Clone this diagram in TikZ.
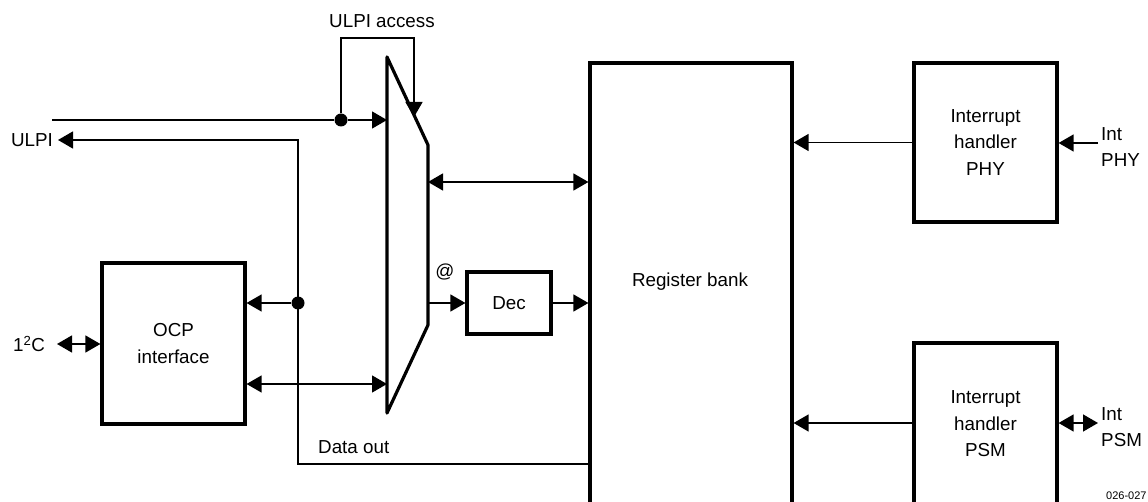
\documentclass[tikz,border=0pt]{standalone}
\usepackage{fontspec}
\setmainfont{Liberation Sans}
\usetikzlibrary{arrows.meta}
\begin{document}
\begin{tikzpicture}[x=1pt,y=-1pt,
  box/.style={draw, line width=3.2pt, inner sep=0pt, align=center},
  lbl/.style={font=\fontsize{18.8}{26.5}\selectfont, inner sep=0pt, align=center},
  wire/.style={line width=1.4pt},
  tip/.tip={Triangle[length=15pt,width=17pt]},
  arr/.style={wire, -tip},
  darr/.style={wire, tip-tip},
  dot/.style={circle, fill, inner sep=0pt, minimum size=13pt}]
\useasboundingbox (0,0) rectangle (1148,502);

% boxes
\node[box, lbl, minimum width=143pt, minimum height=161pt] (ocp) at (173.5,343.5) {OCP\\interface};
\node[box, lbl, minimum width=84pt, minimum height=62pt] (dec) at (509,303) {Dec};
\node[box, minimum width=202pt, minimum height=482pt] (bank) at (691,304) {};
\node[lbl] (banklbl) at (690,282) {Register bank};
\node[box, lbl, minimum width=143pt, minimum height=159pt] (phy) at (985.5,142.5) {Interrupt\\handler\\PHY};
\node[box, minimum width=143pt, minimum height=202pt] (psm) at (985.5,444) {};
\node[lbl] (psmlbl) at (985.5,424) {Interrupt\\handler\\PSM};

% multiplexer
\coordinate (m1) at (387,57);
\coordinate (m2) at (428,145);
\coordinate (m3) at (428,325);
\coordinate (m4) at (387,413);
\draw[line width=3.2pt, line join=round] (m1) -- (m2) -- (m3) -- (m4) -- cycle;

% ULPI input and access
\coordinate (ulpiin) at (52,120);
\coordinate (muxin1) at (387,120);
\node[dot] (d1) at (341,120) {};
\draw[wire] (ulpiin) -- (d1);
\draw[arr] (d1) -- (muxin1);
\coordinate (acctop) at (414,38);
\coordinate (acc) at (414,117);
\draw[arr] (d1) |- (acctop) -- (acc);
\node[lbl] (acclbl) at (382,21) {ULPI access};

% ULPI output / data out
\node[lbl, anchor=east] (ulpilbl) at (53,140) {ULPI};
\coordinate (ulpiout) at (58,140);
\coordinate (jt) at (298,140);
\coordinate (corner) at (298,464);
\coordinate (dout) at (590,464);
\draw[arr] (dout) -- (corner) -- (jt) -- (ulpiout);
\node[lbl, anchor=west] (doutlbl) at (318,447) {Data out};
\node[dot] (d2) at (298,303) {};
\draw[arr] (d2) -- (ocp.east |- d2);

% OCP <-> mux
\coordinate (mux4) at (387,384);
\draw[darr] (ocp.east |- mux4) -- (mux4);

% I2C
\node[lbl] (i2c) at (29,344) {1\textsuperscript{2}C};
\coordinate (i2cend) at (57,344);
\draw[darr] (i2cend) -- (ocp.west |- i2cend);

% mux <-> bank, mux -> dec -> bank
\coordinate (mux2) at (428,182);
\draw[darr] (mux2) -- (bank.west |- mux2);
\coordinate (mux3) at (428,303);
\draw[arr] (mux3) -- (dec.west);
\node[lbl] (at) at (445,272) {@};
\draw[arr] (dec.east) -- (bank.west |- dec.east);

% interrupt handlers
\draw[arr] (phy.west) -- (bank.east |- phy.west);
\coordinate (intphy) at (1098,143);
\draw[arr] (intphy) -- (phy.east |- intphy);
\node[lbl, anchor=west, align=left] (intphylbl) at (1101,147) {Int\\PHY};

\coordinate (intpsm) at (1098,423);
\draw[arr] (psm.west |- intpsm) -- (bank.east |- intpsm);
\draw[darr] (intpsm) -- (psm.east |- intpsm);
\node[lbl, anchor=west, align=left] (intpsmlbl) at (1101,427) {Int\\PSM};

\node[font=\fontsize{11}{13}\selectfont, inner sep=0pt, anchor=west] (ref) at (1106,496) {026-027};
\end{tikzpicture}
\end{document}
